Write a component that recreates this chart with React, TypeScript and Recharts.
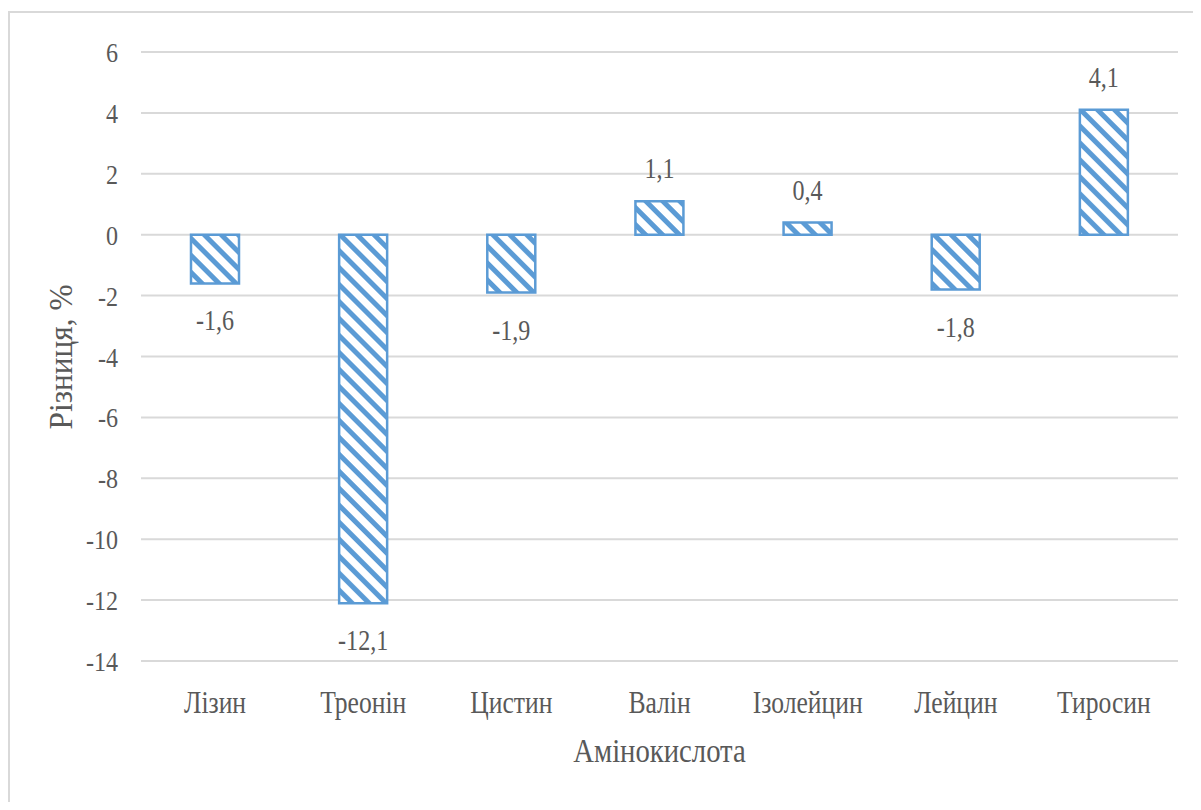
import { Bar, BarChart, CartesianGrid, XAxis, YAxis, LabelList, Label } from "recharts"

const categories = ["Лізин", "Треонін", "Цистин", "Валін", "Ізолейцин", "Лейцин", "Тиросин"]
const diffValues = [-1.6, -12.1, -1.9, 1.1, 0.4, -1.8, 4.1]
const yTicks = [-14, -12, -10, -8, -6, -4, -2, 0, 2, 4, 6]

const data = categories.map((name, i) => ({ name, value: diffValues[i] }))

const FONT = '"Liberation Serif", "Times New Roman", serif'
const TEXT = "#595959"
const BLUE = "#5B9BD5"

// squeezed text, the original picture is narrowed horizontally
const SText = ({ x, y, size, sx = 1, anchor = "middle", rotate = 0, children }: any) => (
  <text
    transform={`translate(${x},${y})${rotate ? ` rotate(${rotate})` : ""} scale(${sx},1)`}
    textAnchor={anchor}
    fontSize={size}
    fontFamily={FONT}
    fill={TEXT}
  >
    {children}
  </text>
)

const fmt = (v: number) => String(v).replace(".", ",")

const YTick = ({ x, y, payload }: any) => (
  <SText x={x - 23} y={y + 10} size={28} sx={0.86} anchor="end">{fmt(payload.value)}</SText>
)

const XTick = ({ x, y, payload }: any) => (
  <SText x={x} y={y + 52} size={32} sx={0.8}>{payload.value}</SText>
)

const ValueLabel = ({ x, y, width, height, value }: any) => {
  const top = Math.min(y, y + height)
  const bottom = Math.max(y, y + height)
  const cx = x + width / 2
  const ty = value >= 0 ? top - 23 : bottom + 47
  return <SText x={cx} y={ty} size={29} sx={0.83}>{fmt(value)}</SText>
}

export default function App() {
  return (
    <div style={{ width: 1193, height: 794, overflow: "hidden", position: "relative" }}>
      <svg width={0} height={0} style={{ position: "absolute" }}>
        <defs>
          <pattern id="hatch" patternUnits="userSpaceOnUse" width={12} height={12} patternTransform="rotate(-45)">
            <rect x={0} y={0} width={12} height={12} fill="#ffffff" />
            <rect x={0} y={0} width={5} height={12} fill={BLUE} />
          </pattern>
        </defs>
      </svg>
      <div
        style={{
          position: "absolute",
          left: 0,
          top: 3,
          width: 1300,
          height: 900,
          border: "2px solid #d9d9d9",
          boxSizing: "border-box",
        }}
      />
      <div style={{ position: "absolute", left: 0, top: 0 }}>
        <BarChart
          width={1193}
          height={794}
          data={data}
          margin={{ top: 44, right: 23, left: 0, bottom: 0 }}
        >
          <CartesianGrid vertical={false} stroke="#d9d9d9" strokeWidth={2} />
          <XAxis
            dataKey="name"
            axisLine={false}
            tickLine={false}
            tickSize={0}
            tickMargin={0}
            height={141}
            tick={<XTick />}
            interval={0}
          >
            <Label
              content={() => <SText x={659.5 - 8} y={754} size={33} sx={0.87}>Амінокислота</SText>}
            />
          </XAxis>
          <YAxis
            domain={[-14, 6]}
            ticks={yTicks}
            axisLine={false}
            tickLine={false}
            tickSize={0}
            tickMargin={0}
            width={133}
            tick={<YTick />}
            interval={0}
          >
            <Label
              content={() => <SText x={64} y={349} size={33} sx={0.95} rotate={-90}>Різниця, %</SText>}
            />
          </YAxis>
          <Bar
            dataKey="value"
            barSize={48}
            fill="url(#hatch)"
            stroke={BLUE}
            strokeWidth={2.5}
            isAnimationActive={false}
          >
            <LabelList dataKey="value" content={<ValueLabel />} />
          </Bar>
        </BarChart>
      </div>
    </div>
  )
}
